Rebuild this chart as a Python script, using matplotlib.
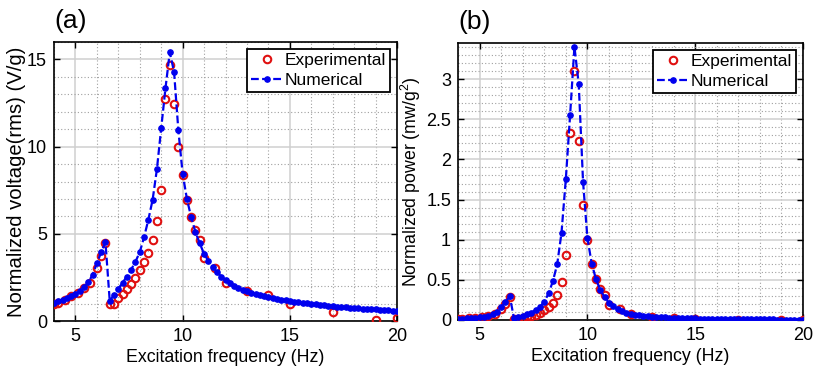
import matplotlib
matplotlib.use("Agg")
import matplotlib.pyplot as plt
from matplotlib.ticker import MultipleLocator

plt.rcParams['font.family'] = ['Liberation Sans', 'DejaVu Sans']
plt.rcParams['mathtext.fontset'] = 'custom'
plt.rcParams['mathtext.rm'] = 'Liberation Sans'

# ---- numerical (0.2 Hz steps) ----
f_num = [4.0, 4.2, 4.4, 4.6, 4.8, 5.0, 5.2, 5.4, 5.6, 5.8, 6.0, 6.2, 6.4,
         6.6, 6.8, 7.0, 7.2, 7.4, 7.6, 7.8, 8.0, 8.2, 8.4, 8.6, 8.8, 9.0,
         9.2, 9.4, 9.6, 9.8, 10.0, 10.2, 10.4, 10.6, 10.8, 11.0, 11.2, 11.4,
         11.6, 11.8, 12.0, 12.2, 12.4, 12.6, 12.8, 13.0, 13.2, 13.4, 13.6,
         13.8, 14.0, 14.2, 14.4, 14.6, 14.8, 15.0, 15.2, 15.4, 15.6, 15.8,
         16.0, 16.2, 16.4, 16.6, 16.8, 17.0, 17.2, 17.4, 17.6, 17.8, 18.0,
         18.2, 18.4, 18.6, 18.8, 19.0, 19.2, 19.4, 19.6, 19.8, 20.0]

v_num = [1.05, 1.12, 1.20, 1.30, 1.42, 1.55, 1.72, 1.93, 2.22, 2.65, 3.30, 3.95, 4.52,
         1.15, 1.50, 1.85, 2.20, 2.55, 2.95, 3.40, 3.95, 4.80, 5.80, 6.95, 8.70, 11.05,
         13.35, 15.40, 14.30, 10.95, 8.45, 7.00, 5.95, 5.10, 4.45, 3.85, 3.45, 3.10,
         2.80, 2.55, 2.35, 2.18, 2.03, 1.90, 1.79, 1.70, 1.62, 1.55, 1.49,
         1.43, 1.38, 1.33, 1.28, 1.23, 1.19, 1.15, 1.11, 1.07, 1.04, 1.01,
         0.98, 0.95, 0.92, 0.89, 0.87, 0.84, 0.82, 0.80, 0.78, 0.76, 0.74,
         0.72, 0.70, 0.69, 0.67, 0.66, 0.64, 0.63, 0.61, 0.60, 0.59]

p_num = [0.016, 0.018, 0.021, 0.024, 0.029, 0.035, 0.042, 0.053, 0.071, 0.101, 0.156, 0.224, 0.293,
         0.019, 0.032, 0.049, 0.069, 0.093, 0.125, 0.166, 0.224, 0.331, 0.483, 0.693, 1.086, 1.752,
         2.557, 3.403, 2.934, 1.720, 1.025, 0.703, 0.508, 0.373, 0.284, 0.213, 0.171, 0.138,
         0.113, 0.093, 0.079, 0.068, 0.059, 0.052, 0.046, 0.041, 0.038, 0.034, 0.032,
         0.029, 0.027, 0.025, 0.024, 0.022, 0.020, 0.019, 0.018, 0.016, 0.016, 0.015,
         0.014, 0.013, 0.012, 0.011, 0.011, 0.010, 0.010, 0.009, 0.009, 0.008, 0.008,
         0.007, 0.007, 0.007, 0.006, 0.006, 0.006, 0.006, 0.005, 0.005, 0.005]

# ---- experimental ----
f_exp = [4.0, 4.2, 4.5, 4.8, 5.1, 5.4, 5.7, 6.0, 6.2, 6.4,
         6.6, 6.8, 7.0, 7.2, 7.4, 7.6, 7.8, 8.0, 8.2, 8.4, 8.6, 8.8, 9.0,
         9.2, 9.4, 9.6, 9.8, 10.0, 10.2, 10.4, 10.6, 10.8, 11.0, 11.5, 12.0,
         13.0, 14.0, 15.0, 17.0, 19.0, 20.0]

v_exp = [0.95, 1.02, 1.20, 1.45, 1.58, 1.92, 2.20, 3.05, 3.75, 4.50,
         0.97, 1.00, 1.30, 1.57, 1.85, 2.14, 2.48, 2.90, 3.38, 3.89, 4.62, 5.72, 7.50,
         12.75, 14.70, 12.45, 10.00, 8.35, 6.95, 5.98, 5.20, 4.62, 3.62, 3.05, 2.20,
         1.72, 1.47, 0.97, 0.50, 0.03, 0.15]

p_exp = [0.013, 0.015, 0.021, 0.030, 0.036, 0.053, 0.069, 0.133, 0.202, 0.291,
         0.013, 0.014, 0.024, 0.035, 0.049, 0.066, 0.088, 0.121, 0.164, 0.217, 0.306, 0.469, 0.807,
         2.333, 3.101, 2.224, 1.435, 1.000, 0.693, 0.513, 0.388, 0.306, 0.188, 0.133, 0.069,
         0.042, 0.031, 0.014, 0.004, 0.000, 0.000]

FS = 13
W, H = 815, 371


def style_axes(ax, ymax, ymajor, yminor):
    ax.set_xlim(4, 20)
    ax.set_ylim(0, ymax)
    ax.xaxis.set_major_locator(MultipleLocator(5))
    ax.xaxis.set_minor_locator(MultipleLocator(1))
    ax.yaxis.set_major_locator(MultipleLocator(ymajor))
    ax.yaxis.set_minor_locator(MultipleLocator(yminor))
    ax.grid(True, which='major', color='#cfcfcf', lw=1.1, ls='-')
    ax.grid(True, which='minor', color='#a0a0a0', lw=0.8, ls=(0, (1, 2)))
    ax.set_axisbelow(True)
    ax.tick_params(which='major', direction='in', top=True, right=True,
                   length=4, width=1.0, labelsize=FS, pad=5)
    ax.tick_params(which='minor', length=0)
    for s in ax.spines.values():
        s.set_linewidth(1.2)
        s.set_color('black')
    ax.set_xlabel('Excitation frequency (Hz)', fontsize=12.8, labelpad=3)


fig = plt.figure(figsize=(W / 100, H / 100), dpi=100)

axa = fig.add_axes([54 / W, (H - 321) / H, (397 - 54) / W, (321 - 42) / H])
axb = fig.add_axes([458 / W, (H - 320) / H, (803 - 458) / W, (320 - 43) / H])

for ax, yn, ye in [(axa, v_num, v_exp), (axb, p_num, p_exp)]:
    ax.plot(f_exp, ye, 'o', color='red', mfc='none', mec='#e01010', ms=5.4, mew=1.5,
            label='Experimental', zorder=3)
    ax.plot(f_num, yn, '--', color='#0000ee', lw=1.6, marker='o', ms=3.8,
            mfc='#0000ee', mec='#0000ee', dashes=(3.5, 1.5), label='Numerical', zorder=4)
    leg = ax.legend(loc='upper right', fontsize=12.5, frameon=True, fancybox=False,
                    edgecolor='black', framealpha=1, borderpad=0.25,
                    handlelength=1.8, handletextpad=0.1, labelspacing=0.25,
                    borderaxespad=0.4)
    leg.get_frame().set_linewidth(1.3)

style_axes(axa, 16, 5, 1)
axa.set_ylabel('Normalized voltage(rms) (V/g)', fontsize=14.6, labelpad=1)
style_axes(axb, 3.45, 0.5, 0.1)
axb.set_yticks([0, 0.5, 1, 1.5, 2, 2.5, 3])
axb.set_yticklabels(['0', '0.5', '1', '1.5', '2', '2.5', '3'])
axb.set_ylabel('Normalized power (mw/g$^2$)', fontsize=12.8, labelpad=2)

axa.text(0, 1.05, '(a)', transform=axa.transAxes, fontsize=19,
         ha='left', va='baseline')
axb.text(0, 1.05, '(b)', transform=axb.transAxes, fontsize=19,
         ha='left', va='baseline')

fig.savefig('out.png', dpi=100)
